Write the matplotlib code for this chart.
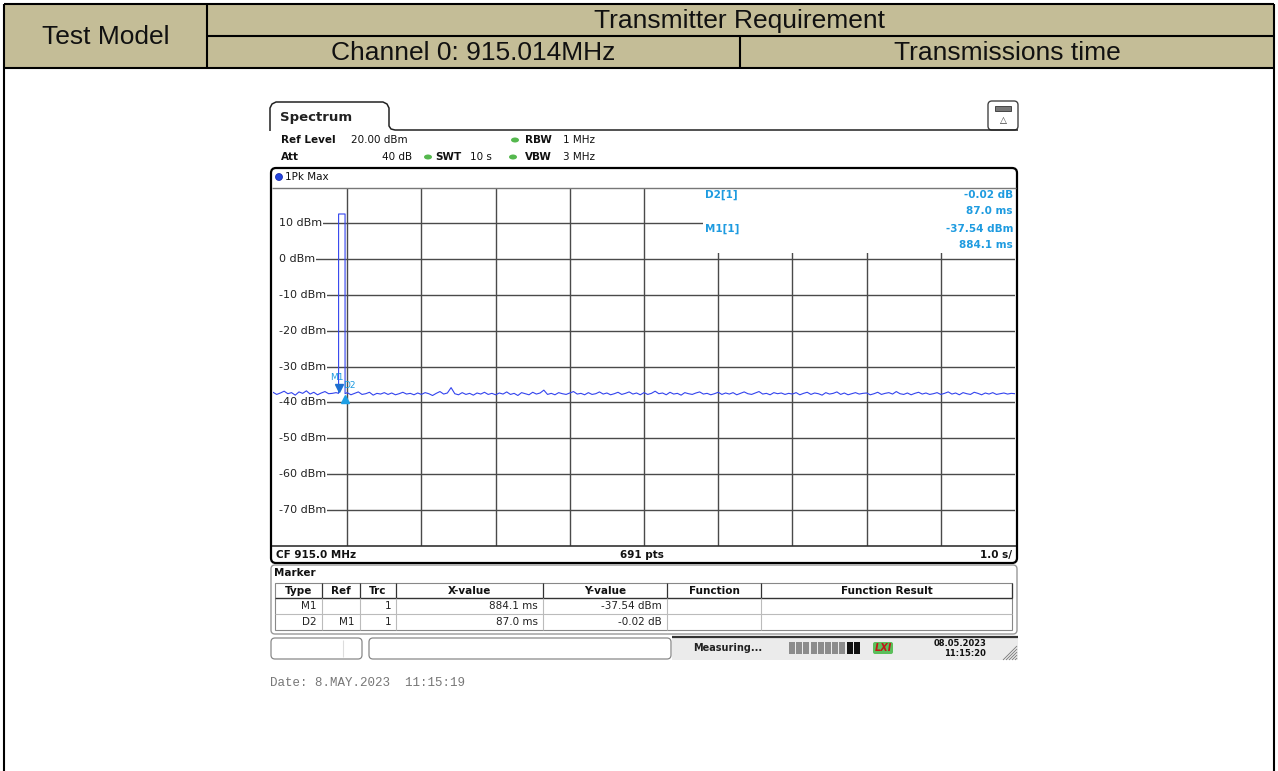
import numpy as np
import matplotlib.pyplot as plt
from matplotlib.patches import Rectangle, FancyBboxPatch, Ellipse, Circle
from matplotlib.transforms import offset_copy

W, H = 1278, 771

# header table
header_left = 'Test Model'
header_top = 'Transmitter Requirement'
header_cells = ['Channel 0: 915.014MHz', 'Transmissions time']

# analyser screen texts
ref_level = '20.00 dBm'
att = '40 dB'
swt = '10 s'
rbw = '1 MHz'
vbw = '3 MHz'
trace_name = '1Pk Max'
cf_text = 'CF 915.0 MHz'
pts_text = '691 pts'
div_text = '1.0 s/'
date_text = 'Date: 8.MAY.2023  11:15:19'

y_ticks = [10, 0, -10, -20, -30, -40, -50, -60, -70]
x_grid = [1, 2, 3, 4, 5, 6, 7, 8, 9]
sweep_s = 10.0

# noise floor (dBm), evenly spread over the 10 s sweep
noise_dbm = [
    -37.2, -37.8, -37.4, -36.9, -37.6, -37.3, -38.0, -37.1, -37.5, -36.8, -37.7, -37.2, -37.9, -37.4, -37.0, -37.6, -37.5, -37.3, -37.8, -37.4,
    -37.3, -37.9, -37.5, -37.1, -37.8, -37.6, -37.2, -38.0, -37.5, -37.7, -37.3, -37.8, -37.4, -37.9, -37.6, -37.2, -37.7, -37.5, -37.9, -37.4,
    -37.8, -37.3, -37.6, -38.1, -37.5, -37.0, -37.7, -37.4, -35.9, -37.6, -37.9, -37.3, -37.8, -37.5, -38.0, -37.4, -37.7, -37.2, -37.8, -37.5,
    -37.9, -37.4, -37.7, -37.1, -37.8, -37.5, -38.1, -37.3, -37.6, -37.9, -37.2, -37.7, -37.4, -36.6, -37.8, -37.5, -37.9, -37.3, -37.6, -37.8,
    -37.4, -37.0, -37.7, -37.5, -37.9, -37.3, -37.8, -37.6, -37.1, -37.7, -37.4, -37.9, -37.6, -37.2, -37.8, -37.5, -37.1, -37.7, -37.4, -37.9,
    -37.3, -37.8, -37.5, -36.9, -37.6, -37.4, -37.9, -37.2, -37.7, -37.5, -38.0, -37.3, -37.6, -37.8, -37.4, -37.1, -37.7, -37.5, -37.9, -37.6,
    -37.2, -37.8, -37.4, -37.7, -37.3, -37.9, -37.5, -37.1, -37.6, -37.8, -37.4, -37.0, -37.7, -37.5, -37.9, -37.3, -37.6, -37.4, -37.8, -37.5,
    -37.7, -37.3, -37.9, -37.5, -37.2, -37.8, -37.4, -37.6, -38.0, -37.3, -37.7, -37.5, -37.1, -37.8, -37.4, -37.9, -37.6, -37.3, -37.7, -37.5,
    -37.4, -37.9, -37.6, -37.2, -37.8, -37.5, -37.3, -37.7, -37.0, -37.6, -37.8, -37.4, -37.9, -37.5, -37.2, -37.7, -37.4, -37.8, -37.6, -37.3,
    -37.8, -37.5, -37.1, -37.7, -37.4, -37.9, -37.3, -37.6, -37.8, -37.2, -37.5, -37.9, -37.4, -37.7, -37.3, -37.8, -37.6, -37.4, -37.7, -37.5,
    -37.6,
]
# burst
pulse_t = [0.884, 0.884, 0.971, 0.971]
pulse_dbm = [-37.5, 12.6, 12.6, -37.6]

m1_t, m1_dbm = 0.8841, -37.54
d2_t, d2_dbm = 0.9711, -37.56
marker_info = [('D2[1]', '-0.02 dB', '87.0 ms'), ('M1[1]', '-37.54 dBm', '884.1 ms')]

marker_cols = ['Type', 'Ref', 'Trc', 'X-value', 'Y-value', 'Function', 'Function Result']
marker_rows = [['M1', '', '1', '884.1 ms', '-37.54 dBm', '', ''],
               ['D2', 'M1', '1', '87.0 ms', '-0.02 dB', '', '']]

tan = '#C4BD97'
mblue = '#1E9BE0'
sans = 'DejaVu Sans'

fig = plt.figure(figsize=(W / 100, H / 100), dpi=100)

# ---------------- spectrum trace ----------------
gx0, gx1, gy0, gy1 = 273, 1015, 187.5, 545.5
ax = fig.add_axes([gx0 / W, 1 - gy1 / H, (gx1 - gx0) / W, (gy1 - gy0) / H])
ax.set_xlim(0, sweep_s)
ax.set_ylim(-80, 20)
ax.axis('off')

for v in y_ticks:
    ax.axhline(v, xmin=0.012, color='#4a4a4a', lw=1.0, zorder=1)
    ax.text(0.08, v, f'{v} dBm', fontsize=8, family=sans, color='#222222',
            ha='left', va='center', zorder=3,
            bbox=dict(fc='white', ec='none', pad=0.6))
for v in x_grid:
    ax.axvline(v, color='#4a4a4a', lw=1.0, zorder=1)

t = np.linspace(0, sweep_s, len(noise_dbm))
nd = np.array(noise_dbm)
keep = (t < pulse_t[0]) | (t > pulse_t[-1])
tt = np.concatenate([t[keep], pulse_t])
yy = np.concatenate([nd[keep], pulse_dbm])
order = np.argsort(tt, kind='stable')
ax.plot(tt[order], yy[order], color='#3344EE', lw=0.8, zorder=4)

up = offset_copy(ax.transData, fig=fig, x=0, y=4, units='points')
dn = offset_copy(ax.transData, fig=fig, x=0, y=-4, units='points')
ax.plot([m1_t], [m1_dbm], marker='v', ms=6, color='#1E6FD0', transform=up, zorder=5)
ax.plot([d2_t], [d2_dbm], marker='^', ms=6, color='#1EA0E6', transform=dn, zorder=5)

# ---------------- overlay in pixel coordinates ----------------
ov = fig.add_axes([0, 0, 1, 1], zorder=5)
ov.set_xlim(0, W)
ov.set_ylim(H, 0)
ov.axis('off')

def line(xs, ys, c='black', lw=1.5, **kw):
    ov.plot(xs, ys, color=c, lw=lw, solid_capstyle='butt', **kw)

# header table
ov.add_patch(Rectangle((4, 4), 1270, 64, fc=tan, ec='none'))
line([4, 1274], [4, 4])
line([4, 1274], [68, 68])
line([207, 1274], [36, 36])
line([207, 207], [4, 68])
line([740, 740], [36, 68])
line([4, 4], [4, H])
line([1274, 1274], [4, H])
hf = dict(family='Liberation Sans', fontsize=19, color='#111111', ha='center', va='center')
ov.text(105.5, 37, header_left, **hf)
ov.text(740, 21, header_top, **hf)
ov.text(473.5, 53, header_cells[0], **hf)
ov.text(1007, 53, header_cells[1], **hf)

# spectrum tab
line([270, 270, 272, 276, 383, 387, 389, 389, 391, 395, 1018],
     [131, 108, 104, 102, 102, 104, 108, 126, 129, 130, 130], c='#222222', lw=1.1)
ov.text(280, 117, 'Spectrum', family=sans, fontsize=9.5, weight='bold', va='center', color='#222222')
ov.add_patch(FancyBboxPatch((988, 101), 30, 29, boxstyle='round,pad=0,rounding_size=4',
                            fc='white', ec='#444444', lw=1.0))
ov.add_patch(Rectangle((995, 106), 16, 5, fc='#777777', ec='#333333', lw=0.6))
ov.text(1003, 121, '\u25b3', family=sans, fontsize=6.5, ha='center', va='center', color='#333333')

# settings
sf = dict(family=sans, fontsize=7.5, va='center', color='#111111')
green = '#55B84E'
ov.text(281, 140, 'Ref Level', weight='bold', **sf)
ov.text(351, 140, ref_level, **sf)
ov.add_patch(Ellipse((515, 140), 8, 5, fc=green, ec='none'))
ov.text(525, 140, 'RBW', weight='bold', **sf)
ov.text(563, 140, rbw, **sf)
ov.text(281, 157, 'Att', weight='bold', **sf)
ov.text(412, 157, att, ha='right', **sf)
ov.add_patch(Ellipse((428, 157), 8, 5, fc=green, ec='none'))
ov.text(435, 157, 'SWT', weight='bold', **sf)
ov.text(470, 157, swt, **sf)
ov.add_patch(Ellipse((513, 157), 8, 5, fc=green, ec='none'))
ov.text(525, 157, 'VBW', weight='bold', **sf)
ov.text(563, 157, vbw, **sf)

# plot frame
ov.add_patch(FancyBboxPatch((271, 168), 746, 395, boxstyle='round,pad=0,rounding_size=5',
                            fc='none', ec='black', lw=1.6))
line([272, 1016], [gy0, gy0], c='#777777', lw=1.0)
line([272, 1016], [gy1, gy1], c='#333333', lw=1.2)
ov.add_patch(Circle((279, 177), 3.5, fc='#2244DD', ec='#1122AA', lw=0.5))
ov.text(285, 177, trace_name, **sf)

# marker readout box
ov.add_patch(Rectangle((703, gy0 + 1), gx1 - 703, 253 - gy0 - 1, fc='white', ec='none'))
mf = dict(family=sans, fontsize=7.5, weight='bold', color=mblue, va='center')
for i, (name, val, tm) in enumerate(marker_info):
    y = 195 + 34 * i
    ov.text(705, y, name, **mf)
    ov.text(1013, y, val, ha='right', **mf)
    ov.text(1013, y + 16.5, tm, ha='right', **mf)

# marker labels on trace
ov.text(330, 378, 'M1', family=sans, fontsize=6.5, color=mblue, va='center')
ov.text(343, 386, 'D2', family=sans, fontsize=6.5, color=mblue, va='center')

# CF bar
ov.text(276, 555, cf_text, family=sans, fontsize=7.5, weight='bold', va='center', color='#111111')
ov.text(642, 555, pts_text, family=sans, fontsize=7.5, weight='bold', va='center', ha='center', color='#111111')
ov.text(1012, 555, div_text, family=sans, fontsize=7.5, weight='bold', va='center', ha='right', color='#111111')

# marker table panel
ov.add_patch(FancyBboxPatch((271, 565), 746, 69, boxstyle='round,pad=0,rounding_size=4',
                            fc='white', ec='#999999', lw=1.0))
ov.text(274, 573, 'Marker', family=sans, fontsize=7.5, weight='bold', va='center', color='#111111')
tx0, tx1 = 275, 1012
row_y = [583, 598, 614, 630]
col_x = [tx0, 322, 360, 396, 543, 667, 761, tx1]
ov.add_patch(Rectangle((tx0, row_y[0]), tx1 - tx0, row_y[-1] - row_y[0], fc='white', ec='#888888', lw=0.8))
line([tx0, tx1], [row_y[1], row_y[1]], c='#333333', lw=1.0)
line([tx0, tx1], [row_y[2], row_y[2]], c='#BBBBBB', lw=0.8)
for cx in col_x[1:-1]:
    line([cx, cx], [row_y[0], row_y[1]], c='#333333', lw=0.9)
    line([cx, cx], [row_y[1], row_y[-1]], c='#BBBBBB', lw=0.8)
line([tx1, tx1], [row_y[0], row_y[1]], c='#333333', lw=0.9)
for j, name in enumerate(marker_cols):
    ov.text((col_x[j] + col_x[j + 1]) / 2, 591, name, family=sans, fontsize=7.5,
            weight='bold', ha='center', va='center', color='#111111')
for i, row in enumerate(marker_rows):
    y = (row_y[i + 1] + row_y[i + 2]) / 2
    for j, cell in enumerate(row):
        if cell:
            ov.text(col_x[j + 1] - 5, y, cell, family=sans, fontsize=7.5,
                    ha='right', va='center', color='#222222')

# status bar
ov.add_patch(Rectangle((672, 637), 346, 23, fc='#EBEBEB', ec='none'))
line([672, 1018], [636.5, 636.5], c='#333333', lw=1.6)
ov.add_patch(FancyBboxPatch((271, 638), 91, 21, boxstyle='round,pad=0,rounding_size=4',
                            fc='white', ec='#888888', lw=0.9))
line([343, 343], [640, 657], c='#DDDDDD', lw=0.8)
ov.add_patch(FancyBboxPatch((369, 638), 302, 21, boxstyle='round,pad=0,rounding_size=4',
                            fc='white', ec='#888888', lw=0.9))
ov.text(693, 648, 'Measuring...', family=sans, fontsize=7, weight='bold', va='center', color='#222222')
for k in range(10):
    ov.add_patch(Rectangle((789 + 7.2 * k, 642), 6, 12,
                           fc='#111111' if k >= 8 else '#8C8C8C', ec='none'))
ov.add_patch(FancyBboxPatch((873, 642), 20, 12, boxstyle='round,pad=0,rounding_size=2',
                            fc='#5BBF5B', ec='none'))
ov.text(883, 648, 'LXI', family=sans, fontsize=7, weight='bold', style='italic',
        color='#C01818', ha='center', va='center')
ov.text(986, 643, '08.05.2023', family=sans, fontsize=6, weight='bold', ha='right', va='center', color='#111111')
ov.text(986, 654, '11:15:20', family=sans, fontsize=6, weight='bold', ha='right', va='center', color='#111111')
for k in range(5):
    line([1003 + 3 * k, 1017], [660, 646 + 3 * k], c='#777777', lw=0.6)

ov.text(270, 683, date_text, family='Liberation Mono', fontsize=9, color='#777777', va='center')

fig.savefig('out.png', dpi=100, facecolor='white')
